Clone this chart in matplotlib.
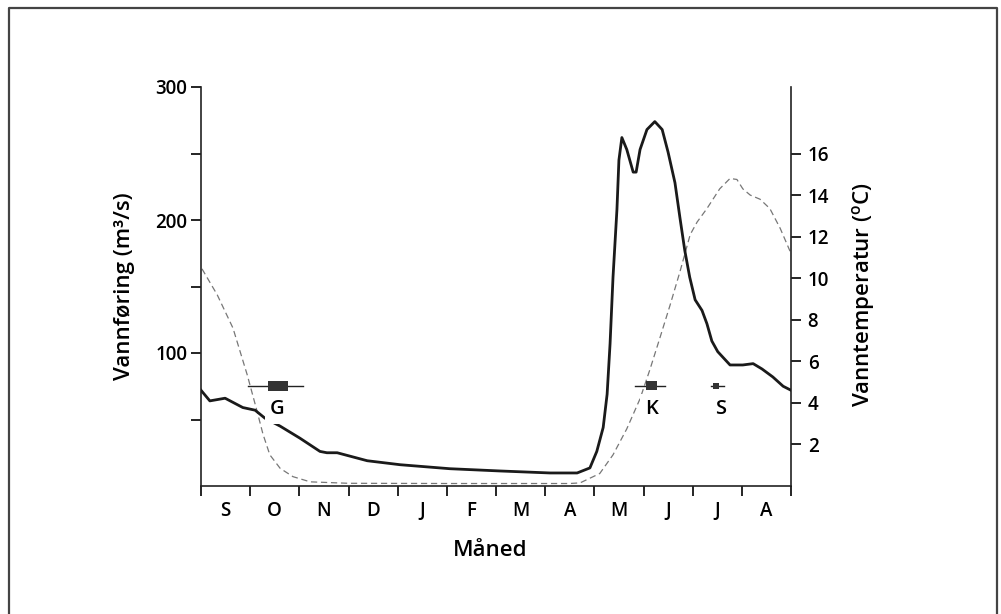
import matplotlib
matplotlib.use('Agg')
import matplotlib.pyplot as plt
from matplotlib.lines import Line2D
import numpy as np

plt.rcParams['font.family'] = ['Open Sans', 'DejaVu Sans']
plt.rcParams['font.weight'] = 'semibold'
plt.rcParams['axes.labelweight'] = 'semibold'
plt.rcParams['mathtext.fontset'] = 'custom'
plt.rcParams['mathtext.rm'] = 'Open Sans:semibold'

# months from start of September (0) to end of August (12)
months = ['S', 'O', 'N', 'D', 'J', 'F', 'M', 'A', 'M', 'J', 'J', 'A']

# discharge (m3/s)
q_t = [0.0, 0.18, 0.49, 0.85, 1.10, 1.30, 1.61, 2.01, 2.42, 2.56, 2.77, 3.38,
       4.05, 5.06, 6.08, 7.10, 7.65, 7.91, 8.05, 8.18, 8.26, 8.32, 8.38, 8.46,
       8.50, 8.56, 8.66, 8.79, 8.85, 8.93, 9.07, 9.23, 9.38, 9.50, 9.64, 9.74,
       9.84, 9.94, 10.05, 10.19, 10.29, 10.39, 10.51, 10.76, 11.02, 11.23,
       11.41, 11.63, 11.84, 12.0]
q_val = [72, 64, 66, 59, 57, 51, 45, 36, 26, 25, 25, 19,
         16, 13, 11.3, 9.8, 9.8, 13.6, 26, 44, 69, 107, 157, 208,
         245, 262, 253, 236, 236, 253, 268, 274, 268, 251, 228, 202,
         177, 157, 140, 132, 122, 109, 101, 91, 91, 92,
         88, 82, 75, 72]

# water temperature (deg C)
t_t = [0.02, 0.33, 0.65, 0.94, 1.14, 1.26, 1.40, 1.61, 1.87, 2.22, 3.0, 5.0,
       7.50, 7.71, 8.11, 8.38, 8.66, 8.93, 9.13, 9.33, 9.54, 9.74, 9.95, 10.09,
       10.29, 10.55, 10.76, 10.90, 11.02, 11.17, 11.37, 11.57, 11.78, 11.98]
t_val = [10.45, 9.2, 7.6, 5.35, 3.6, 2.5, 1.5, 0.85, 0.45, 0.2, 0.13, 0.12,
         0.12, 0.15, 0.6, 1.5, 2.75, 4.2, 5.6, 7.1, 8.7, 10.3, 12.1, 12.7,
         13.35, 14.3, 14.8, 14.75, 14.3, 14.0, 13.8, 13.35, 12.4, 11.3]

# spawning periods: name, full range, main range, label x
spawn_names = ['G', 'K', 'S']
spawn_lo = [0.96, 8.83, 10.37]
spawn_hi = [2.07, 9.44, 10.64]
box_lo = [1.37, 9.05, 10.41]
box_hi = [1.77, 9.27, 10.53]
box_h = [7.5, 6.8, 4.5]
spawn_y = 75.5
label_x = [1.55, 9.16, 10.56]
label_y = 58

fig = plt.figure(figsize=(10.01, 6.14), dpi=100)
ax = fig.add_axes([201/1001, 1-486/614, 590/1001, 399/614])
ax2 = ax.twinx()

ax.plot(q_t, q_val, color='#1a1a1a', lw=2.0, zorder=3)
ax2.plot(t_t, t_val, color='#777777', lw=0.9, ls=(0, (5, 3)))

for i in range(len(spawn_names)):
    ax.plot([spawn_lo[i], spawn_hi[i]], [spawn_y, spawn_y], color='#222222', lw=1.0, zorder=4)
    ax.barh(spawn_y, box_hi[i] - box_lo[i], left=box_lo[i], height=box_h[i],
            color='#333333', zorder=4)
    ax.text(label_x[i], label_y, spawn_names[i], ha='center', va='center',
            fontsize=14.5, zorder=5,
            bbox=dict(facecolor='white', edgecolor='none', pad=3.5))

ax.set_xlim(0, 12)
ax.set_ylim(0, 300)
ax2.set_ylim(0, 19.2)
ax.set_zorder(ax2.get_zorder() + 1)
ax.patch.set_visible(False)

ax.set_xticks(np.arange(0, 13))
ax.set_xticklabels([])
ax.set_xticks(np.arange(0.5, 12), minor=True)
ax.set_xticklabels(months, minor=True, fontsize=13.5)
ax.tick_params(axis='x', which='minor', length=0, pad=11)
ax.tick_params(axis='x', which='major', length=7, width=1.2)

ax.set_yticks([50, 100, 150, 200, 250, 300])
ax.set_yticklabels(['', '100', '', '200', '', '300'], fontsize=13.5)
ax.tick_params(axis='y', length=7, width=1.2, pad=3)

ax2.set_yticks([2, 4, 6, 8, 10, 12, 14, 16])
ax2.set_yticklabels(['2', '4', '6', '8', '10', '12', '14', '16'], fontsize=13.5)
ax2.tick_params(axis='y', length=7, width=1.2, pad=5)

for a in (ax, ax2):
    a.spines['top'].set_visible(False)
    for s in a.spines.values():
        s.set_linewidth(1.2)
        s.set_color('#222222')
ax.spines['right'].set_visible(False)
ax2.spines['left'].set_visible(False)
ax2.spines['bottom'].set_visible(False)

ax.set_ylabel('Vannføring (m³/s)', fontsize=16)
ax.yaxis.set_label_coords(-0.112, 0.5)
ax2.set_ylabel(r'Vanntemperatur ($^{\mathrm{o}}$C)', fontsize=16)
ax2.yaxis.set_label_coords(1.10, 0.48)
ax.set_xlabel('Måned', fontsize=16)
ax.xaxis.set_label_coords(0.49, -0.135)

# outer frame
W, H = 1001, 614
fig.add_artist(Line2D([9/W, 9/W, 997/W, 997/W], [0, 1-8/H, 1-8/H, 0],
                      transform=fig.transFigure, color='#444444', lw=1.6))

fig.savefig('out.png', dpi=100)
